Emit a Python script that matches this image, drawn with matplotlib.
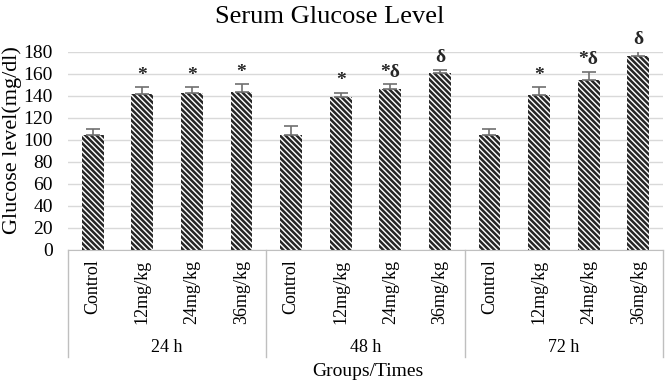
from matplotlib import pyplot as plt
import numpy as np

plt.rcParams["font.family"] = ["Liberation Serif", "DejaVu Serif"]
plt.rcParams["hatch.linewidth"] = 1.8

doses = ["Control", "12mg/kg", "24mg/kg", "36mg/kg"]
times = ["24 h", "48 h", "72 h"]
glucose = [105, 142, 143, 144,
           105, 139, 146, 161,
           105, 141, 155, 176]
err = [5, 6, 5, 7,
       8, 4, 5, 3,
       5, 7, 7, 5]
marks = ["", "*", "*", "*",
         "", "*", "*δ", "δ",
         "", "*", "*δ", "δ"]

labels = doses * len(times)
x = np.arange(len(labels))

fig = plt.figure(figsize=(6.66, 3.84), dpi=100)
ax = fig.add_axes([68/666, 134/384, 595/666, 198/384])

ax.bar(x, glucose, width=0.44, color="white", edgecolor="#262626",
       linewidth=0, hatch="\\" * 6, zorder=2)
ax.errorbar(x, glucose, yerr=[np.zeros(len(err)), err], fmt="none",
            ecolor="#6f6f6f", elinewidth=1.2, capsize=5, capthick=1.2, zorder=3)

for xi, v, e, m in zip(x, glucose, err, marks):
    if m:
        ax.text(xi, v + e + 3, m, ha="center", va="bottom", fontsize=14,
                fontweight="bold", color="#262626")

ax.set_xlim(-0.5, len(labels) - 0.5)
ax.set_ylim(0, 180)
ax.set_yticks(range(0, 181, 20))
ax.yaxis.grid(True, color="#d9d9d9", linewidth=1)
ax.set_axisbelow(True)
ax.tick_params(axis="y", length=0, pad=11, labelsize=14)
ax.set_xticks(x)
ax.set_xticklabels(labels, rotation=90, fontsize=13)
ax.tick_params(axis="x", length=0, pad=7)
for s in ["top", "right", "left"]:
    ax.spines[s].set_visible(False)
ax.spines["bottom"].set_color("#bfbfbf")

# group separators and group names under the axis
trans = ax.get_xaxis_transform()
for b in [-0.5, 3.5, 7.5, 11.5]:
    ax.plot([b, b], [0, -0.54], color="#bfbfbf", linewidth=1,
            transform=trans, clip_on=False)
for i, t in enumerate(times):
    ax.text(i * 4 + 1.5, -0.49, t, ha="center", va="center", fontsize=13,
            transform=trans)

fig.text(330/666, 1 - 17/384, "Serum Glucose Level", ha="center", va="center",
         fontsize=19)
fig.text(12/666, 1 - 140/384, "Glucose level(mg/dl)", ha="center", va="center",
         rotation=90, fontsize=16)
fig.text(368/666, 1 - 372/384, "Groups/Times", ha="center", va="center",
         fontsize=14)

plt.savefig("out.png")
